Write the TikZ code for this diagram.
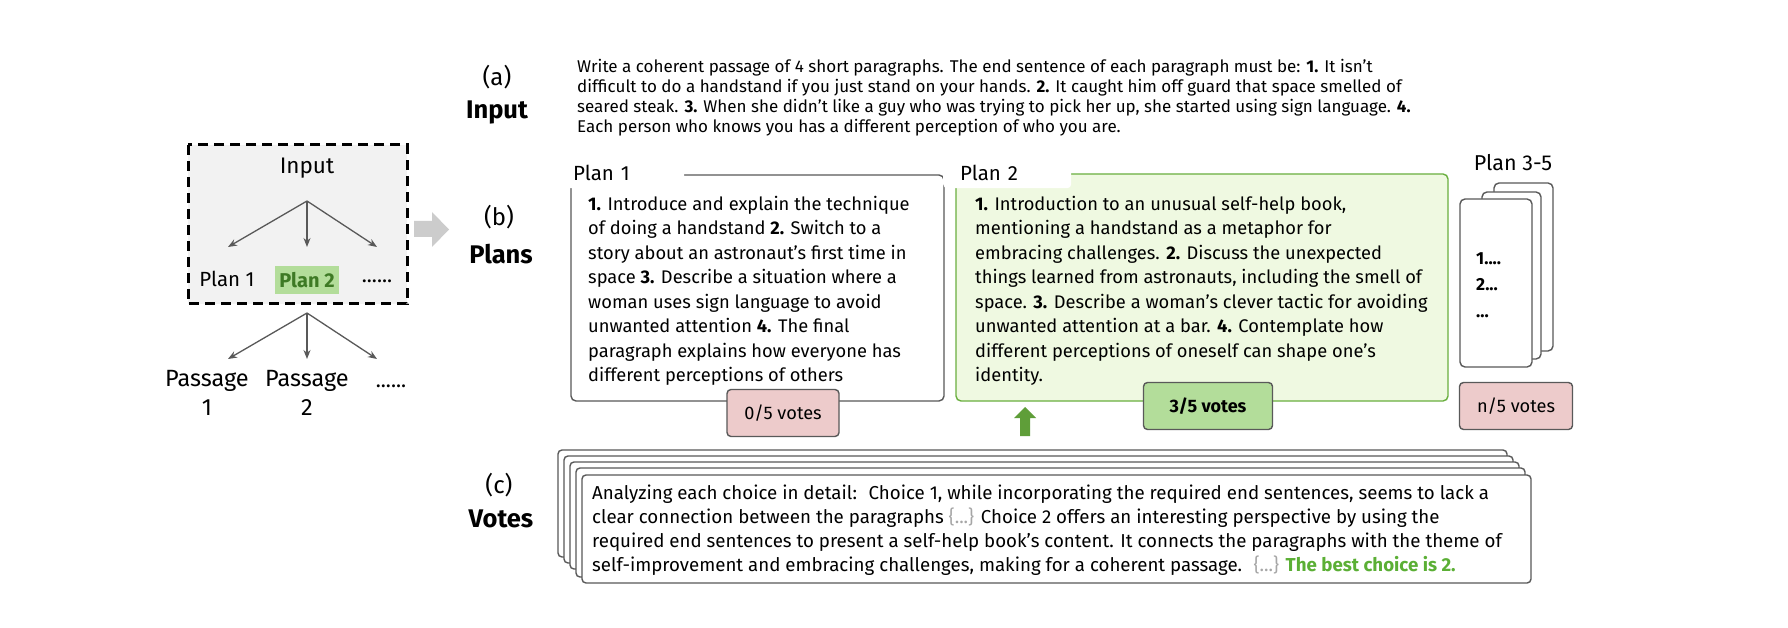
\documentclass[tikz,border=0pt]{standalone}
\usepackage{fontspec}
\setmainfont{Fira Sans}
\usetikzlibrary{arrows.meta}

\definecolor{linegray}{HTML}{595959}
\definecolor{bggray}{HTML}{F2F2F2}
\definecolor{planfill}{HTML}{EFF9E1}
\definecolor{planline}{HTML}{6AAF3F}
\definecolor{votegreen}{HTML}{B3DD9A}
\definecolor{votepink}{HTML}{EDCBCB}
\definecolor{darkgreen}{HTML}{3E7A25}
\definecolor{bestgreen}{HTML}{5BAF35}
\definecolor{bigarrow}{HTML}{CCCCCC}

\tikzset{
  tree/.style={draw=linegray, line width=1.3pt, -{Stealth[length=9pt,width=7pt]}},
  card/.style={draw=linegray, line width=1.4pt, rounded corners=5pt, fill=white},
  votebox/.style={draw=linegray, line width=1.4pt, rounded corners=4pt, minimum width=#1, minimum height=47pt, font=\fontsize{18.2}{22}\selectfont},
  planlabel/.style={fill=white, rounded corners=4pt, anchor=north west, inner xsep=17pt, inner ysep=0pt, text width=94pt, align=left, minimum height=31pt, font=\fontsize{20.5}{24}\selectfont},
  steplabel/.style={align=center, font=\fontsize{24}{28}\selectfont},
  boldlabel/.style={align=center, font=\bfseries\fontsize{25.5}{30}\selectfont},
}

\begin{document}
\begin{tikzpicture}[x=1pt,y=-1pt]
				%%%%% START %%%%%
				\useasboundingbox[fill=white] (0,0) rectangle (1788,628);
				
				% left overview
				\draw[line width=3pt, dash pattern=on 10pt off 6pt, fill=bggray] (188,145) rectangle (407,304);
				\node[font=\fontsize{22.5}{26}\selectfont] (inp) at (307,168) {Input};
				\node[font=\fontsize{20.5}{26}\selectfont] (pa) at (227,279) {Plan 1};
				\node[fill=votegreen, text=darkgreen, inner xsep=4pt, minimum height=28pt, font=\bfseries\fontsize{20}{24}\selectfont] (pb) at (307,280) {Plan 2};
				\node[font=\fontsize{21}{26}\selectfont] (pc) at (377,281) {......};
				\coordinate (forka) at (307,201);
				\coordinate (enda) at (228,247);
				\coordinate (endb) at (307,247);
				\coordinate (endc) at (377,247);
				\draw[tree] (forka) -- (enda);
				\draw[tree] (forka) -- (endb);
				\draw[tree] (forka) -- (endc);
				
				\node[align=center, font=\fontsize{23.5}{29}\selectfont] (psa) at (207,393) {Passage\\1};
				\node[align=center, font=\fontsize{23.5}{29}\selectfont] (psb) at (307,393) {Passage\\2};
				\node[font=\fontsize{21}{26}\selectfont] (psc) at (391,386) {......};
				\coordinate (forkb) at (307,313);
				\coordinate (endd) at (228,359);
				\coordinate (ende) at (307,359);
				\coordinate (endf) at (377,359);
				\draw[tree] (forkb) -- (endd);
				\draw[tree] (forkb) -- (ende);
				\draw[tree] (forkb) -- (endf);
				
				\fill[bigarrow] (414,221) -- (432,221) -- (432,212) -- (449,229.5) -- (432,247) -- (432,237) -- (414,237) -- cycle;
				
				% step labels
				\node[steplabel] (la) at (497,77) {(a)};
				\node[boldlabel] (ta) at (497,112) {Input};
				\node[steplabel] (lb) at (499,217) {(b)};
				\node[boldlabel] (tb) at (501,254) {Plans};
				\node[steplabel] (lc) at (499,485) {(c)};
				\node[boldlabel] (tc) at (501,519) {Votes};
				
				% (a) input
				\node[anchor=north west, inner sep=0pt, align=left, font=\fontsize{17}{20}\selectfont] (task) at (577,59.3) {Write a coherent passage of 4 short paragraphs. The end sentence of each paragraph must be: \textbf{1.} It isn't\\difficult to do a handstand if you just stand on your hands. \textbf{2.} It caught him off guard that space smelled of\\seared steak. \textbf{3.} When she didn't like a guy who was trying to pick her up, she started using sign language. \textbf{4.}\\Each person who knows you has a different perception of who you are.};
				
				% (b) plans
				\draw[card] (571,175) rectangle (944,401);
				\draw[card, draw=planline, fill=planfill] (956,174) rectangle (1448,401);
				\node[planlabel] (pla) at (556,157) {Plan 1};
				\node[planlabel] (plb) at (943,157) {Plan 2};
				
				\node[anchor=north west, inner sep=0pt, align=left, font=\fontsize{18.3}{24.5}\selectfont] (plantexta) at (588,195.8) {\textbf{1.} Introduce and explain the technique\\of doing a handstand \textbf{2.} Switch to a\\story about an astronaut's first time in\\space \textbf{3.} Describe a situation where a\\woman uses sign language to avoid\\unwanted attention \textbf{4.} The final\\paragraph explains how everyone has\\different perceptions of others};
				\node[anchor=north west, inner sep=0pt, align=left, font=\fontsize{18.3}{24.5}\selectfont] (plantextb) at (975,195.8) {\textbf{1.} Introduction to an unusual self-help book,\\mentioning a handstand as a metaphor for\\embracing challenges. \textbf{2.} Discuss the unexpected\\things learned from astronauts, including the smell of\\space. \textbf{3.} Describe a woman's clever tactic for avoiding\\unwanted attention at a bar. \textbf{4.} Contemplate how\\different perceptions of oneself can shape one's\\identity.};
				
				\draw[card] (1494,183) rectangle (1553,351);
				\draw[card] (1482,192) rectangle (1541,359);
				\draw[card] (1460,199) rectangle (1532,367);
				\node[font=\fontsize{21.5}{24}\selectfont] (plc) at (1513,163) {Plan 3-5};
				\node[anchor=north west, inner sep=0pt, align=left, font=\bfseries\fontsize{17.5}{26.5}\selectfont] (plantextc) at (1476,252) {1....\\2...\\...};
				
				\node[votebox=112pt, fill=votepink] (va) at (783,413) {0/5 votes};
				\node[votebox=129pt, fill=votegreen, font=\bfseries\fontsize{18}{22}\selectfont] (vb) at (1208,406) {3/5 votes};
				\node[votebox=113pt, fill=votepink] (vc) at (1516,406) {n/5 votes};
				\fill[planline!90!black] (1025,407) -- (1036,418) -- (1030,418) -- (1030,436) -- (1020,436) -- (1020,418) -- (1014,418) -- cycle;
				
				% (c) votes
				\draw[card, rounded corners=4pt] (558,450) rectangle (1507,557);
				\draw[card, rounded corners=4pt] (564,456) rectangle (1513,563);
				\draw[card, rounded corners=4pt] (570,462) rectangle (1519,569);
				\draw[card, rounded corners=4pt] (576,468) rectangle (1525,577);
				\draw[card, rounded corners=4pt] (582,475) rectangle (1531,583);
				\node[anchor=north west, inner sep=0pt, align=left, font=\fontsize{18.7}{24}\selectfont] (votetext) at (592,485.2) {Analyzing each choice in detail:~ Choice 1, while incorporating the required end sentences, seems to lack a\\clear connection between the paragraphs \textcolor{gray!70}{\{...\}} Choice 2 offers an interesting perspective by using the\\required end sentences to present a self-help book's content. It connects the paragraphs with the theme of\\self-improvement and embracing challenges, making for a coherent passage.~ \textcolor{gray!70}{\{...\}} \textcolor{bestgreen}{\textbf{The best choice is 2.}}};
				%%%%% END %%%%%
\end{tikzpicture}
\end{document}
